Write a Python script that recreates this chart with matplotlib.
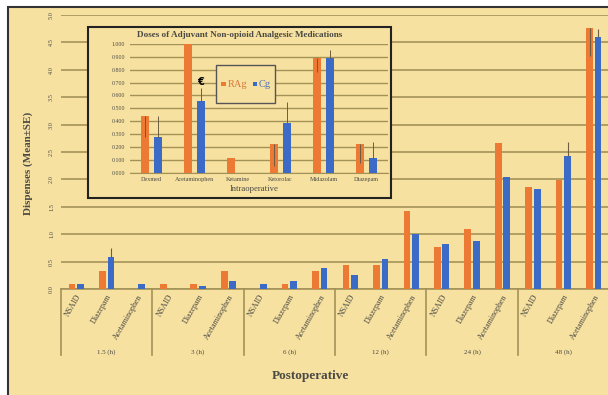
import numpy as np
import matplotlib
matplotlib.use("Agg")
import matplotlib.pyplot as plt
from matplotlib.patches import Rectangle

# ---- data ----
time_points = ["1.5 (h)", "3 (h)", "6 (h)", "12 (h)", "24 (h)", "48 (h)"]
post_drugs = ["NSAID", "Diazepam", "Acetaminophen"]

rag_post = [0.10, 0.33, 0.00,
            0.10, 0.10, 0.33,
            0.00, 0.10, 0.33,
            0.43, 0.43, 1.43,
            0.76, 1.09, 2.66,
            1.87, 1.98, 4.76]
cg_post = [0.10, 0.59, 0.10,
           0.00, 0.05, 0.15,
           0.10, 0.15, 0.38,
           0.26, 0.54, 1.00,
           0.82, 0.88, 2.04,
           1.82, 2.43, 4.59]
rag_post_se = [0, 0, 0, 0, 0, 0, 0, 0, 0, 0, 0, 0, 0, 0, 0, 0, 0, 0.50]
cg_post_se = [0, 0.16, 0, 0, 0, 0, 0, 0, 0, 0, 0, 0, 0, 0, 0, 0, 0.26, 0.15]

intra_drugs = ["Dexmed", "Acetaminophen", "Ketamine", "Ketorolac", "Midazolam", "Diazepam"]
rag_intra = [0.444, 1.000, 0.111, 0.222, 0.889, 0.222]
cg_intra = [0.278, 0.556, 0.000, 0.389, 0.889, 0.111]
rag_intra_se = [0.17, 0.0, 0.0, 0.17, 0.11, 0.15]
cg_intra_se = [0.165, 0.10, 0.0, 0.16, 0.065, 0.125]

series_names = ["RAg", "Cg"]

# ---- style ----
BG = "#F7E1A0"
ORANGE = "#EC7A34"
BLUE = "#3B6BC6"
GRID = "#A39257"
TXT = "#4a4a44"
ERR = "#6d5c40"
plt.rcParams["font.family"] = ["Liberation Serif", "DejaVu Serif"]

W, H = 608, 395
fig = plt.figure(figsize=(W / 100, H / 100), dpi=100, facecolor="white")


def fx(px):
    return px / W


def fy(py):
    return 1 - py / H


# panel background with dark frame
fig.patches.append(Rectangle((fx(8), -0.02), 1.05, fy(7) + 0.02,
                             transform=fig.transFigure, facecolor=BG,
                             edgecolor="#333333", lw=1.5, zorder=-5))

# ---- main (postoperative) axes ----
ax = fig.add_axes([fx(61), fy(289), fx(609) - fx(61), fy(15) - fy(289)])
ax.set_facecolor("none")
x = np.arange(len(rag_post))
bw = 0.22
off = 0.14
ax.bar(x - off, rag_post, bw, color=ORANGE, zorder=3,
       yerr=[rag_post_se, [0] * len(rag_post_se)],
       error_kw=dict(ecolor=ERR, elinewidth=0.8, capsize=0, zorder=4))
ax.bar(x + off, cg_post, bw, color=BLUE, zorder=3,
       yerr=[[0] * len(cg_post_se), cg_post_se],
       error_kw=dict(ecolor=ERR, elinewidth=0.8, capsize=0, zorder=4))
ax.set_xlim(-0.5, len(x) - 0.5)
ax.set_ylim(0, 5)
ax.set_yticks(np.arange(0, 5.01, 0.5))
ax.set_yticklabels([f"{v:.1f}" for v in np.arange(0, 5.01, 0.5)],
                   rotation=90, va="center", fontsize=4.5, color=TXT)
ax.grid(axis="y", color=GRID, lw=1.2, zorder=0)
ax.set_axisbelow(True)
for s in ["top", "right", "left"]:
    ax.spines[s].set_visible(False)
ax.spines["bottom"].set_color(GRID)
ax.spines["bottom"].set_linewidth(1.2)
ax.tick_params(axis="y", length=0, pad=5)
ax.tick_params(axis="x", length=0, pad=3)
ax.set_xticks(x)
ax.set_xticklabels(post_drugs * len(time_points), rotation=60, ha="right",
                   va="top", rotation_mode="anchor", fontsize=5.8, color=TXT)

# group separators and time-point labels
trans = ax.get_xaxis_transform()
sep_bottom = -(355 - 289) / (289 - 15)
for g in range(len(time_points) + 1):
    xs = g * 3 - 0.5
    ax.plot([xs, xs], [0, sep_bottom], color=GRID, lw=1.2,
            transform=trans, clip_on=False)
for g, lab in enumerate(time_points):
    ax.text(g * 3 + 1, -(352 - 289) / (289 - 15), lab, transform=trans,
            ha="center", va="center", fontsize=5, color=TXT)

fig.text(fx(28), fy(163), "Dispenses (Mean±SE)", rotation=90, ha="center",
         va="center", fontsize=8, color=TXT, fontweight="bold")
fig.text(fx(310), fy(376), "Postoperative", ha="center", va="center",
         fontsize=9.5, color=TXT, fontweight="bold")

# ---- inset (intraoperative) ----
fig.patches.append(Rectangle((fx(88), fy(198)), fx(391) - fx(88), fy(27) - fy(198),
                             transform=fig.transFigure, facecolor=BG,
                             edgecolor="#222222", lw=1.5, zorder=1))
ins = fig.add_axes([fx(130), fy(172.7), fx(388) - fx(130), fy(44) - fy(172.7)])
ins.set_zorder(2)
ins.set_facecolor("none")
xi = np.arange(len(intra_drugs))
bwi = 0.20
offi = 0.147
ins.bar(xi - offi, rag_intra, bwi, color=ORANGE, zorder=3,
        yerr=[rag_intra_se, [0] * len(rag_intra_se)],
        error_kw=dict(ecolor=ERR, elinewidth=0.7, capsize=0, zorder=4))
ins.bar(xi + offi, cg_intra, bwi, color=BLUE, zorder=3,
        yerr=[[0] * len(cg_intra_se), cg_intra_se],
        error_kw=dict(ecolor=ERR, elinewidth=0.7, capsize=0, zorder=4))
ins.set_xlim(-0.5, len(xi) - 0.5)
ins.set_ylim(0, 1.0)
ins.set_yticks(np.arange(0, 1.001, 0.1))
ins.set_yticklabels([f"{v:.3f}" for v in np.arange(0, 1.001, 0.1)],
                    fontsize=4.2, color=TXT)
ins.grid(axis="y", color=GRID, lw=1.0, zorder=0)
ins.set_axisbelow(True)
for s in ["top", "right", "left"]:
    ins.spines[s].set_visible(False)
ins.spines["bottom"].set_color(GRID)
ins.tick_params(axis="both", length=0, pad=3.5)
ins.set_xticks(xi)
ins.set_xticklabels(intra_drugs, fontsize=4.4, color=TXT)
ins.tick_params(axis="x", pad=3)

# significance marker over acetaminophen (Cg)
ins.annotate("€", xy=(1 + offi, cg_intra[1] + cg_intra_se[1]),
             xytext=(0, 1), textcoords="offset points",
             ha="center", va="bottom", fontsize=7, fontweight="bold",
             color="black", family=["DejaVu Sans"])

fig.text(fx(240), fy(35), "Doses of Adjuvant Non-opioid Analgesic Medications",
         ha="center", va="center", fontsize=6.6, fontweight="bold",
         color=TXT, zorder=3)
fig.text(fx(254), fy(189), "Intraoperative", ha="center", va="center",
         fontsize=6.2, color=TXT, zorder=3)

# legend box with coloured keys
fig.patches.append(Rectangle((fx(216), fy(103)), fx(275) - fx(216), fy(65) - fy(103),
                             transform=fig.transFigure, facecolor=BG,
                             edgecolor="#555555", lw=1.0, zorder=3))
key_x = [221.5, 252.5]
key_colors = [ORANGE, BLUE]
label_colors = ["#D9773C", "#4A6FB8"]
for kx, kc, lc, name in zip(key_x, key_colors, label_colors, series_names):
    fig.patches.append(Rectangle((fx(kx), fy(86.3)), fx(4.5), 4.5 / H,
                                 transform=fig.transFigure, facecolor=kc,
                                 edgecolor="none", zorder=4))
    fig.text(fx(kx + 6), fy(84.3), name, ha="left", va="center",
             fontsize=7.5, color=lc, zorder=5)

fig.savefig("out.png", dpi=100, facecolor="white")
